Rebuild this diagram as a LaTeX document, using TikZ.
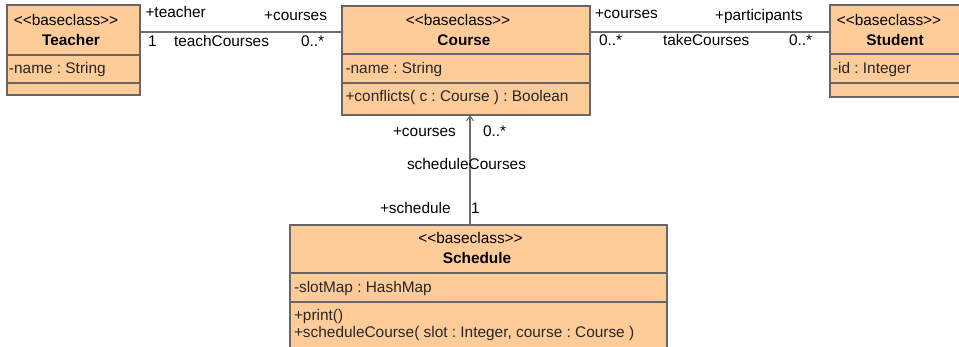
\documentclass[tikz,border=0pt]{standalone}
\usepackage{fontspec}
\setmainfont{Liberation Sans}
\usetikzlibrary{arrows.meta}
\definecolor{peach}{HTML}{FFCC99}
\definecolor{edgegray}{HTML}{666666}
\definecolor{linegray}{HTML}{6E6E6E}
\frenchspacing
\newcommand{\stereotxt}{<{}<baseclass>{}>}
\begin{document}
\begin{tikzpicture}[x=1pt,y=-1pt,
  every node/.style={font=\fontsize{15.4}{17}\selectfont, inner sep=0pt, outer sep=0pt},
  compart/.style={draw=edgegray, fill=peach, line width=1.2pt, anchor=north west, inner sep=0pt},
  stereo/.style={anchor=base},
  cname/.style={anchor=base, font=\fontsize{15.4}{17}\selectfont\bfseries},
  member/.style={anchor=base west, text=black!85},
  lbl/.style={anchor=base west},
  conn/.style={draw=linegray, line width=1.1pt}
]
\useasboundingbox (0,0) rectangle (959,346);
\clip (0,0) rectangle (959,346);
\fill[white] (0,0) rectangle (959,346);

% Teacher
\node[compart, minimum width=133pt, minimum height=50pt] (teacherH) at (7,5) {};
\node[compart, minimum width=133pt, minimum height=28pt] (teacherA) at (7,55) {};
\node[compart, minimum width=133pt, minimum height=12pt] (teacherO) at (7,83) {};
\node[stereo] (teacherS) at (66,25) {\stereotxt};
\node[cname] (teacherN) at (71,45.5) {Teacher};
\node[member] (teacherA1) at (9,73.5) {-name : String};

% Course
\node[compart, minimum width=248pt, minimum height=48pt] (courseH) at (342,6) {};
\node[compart, minimum width=248pt, minimum height=29pt] (courseA) at (342,54) {};
\node[compart, minimum width=248pt, minimum height=32pt] (courseO) at (342,83) {};
\node[stereo] (courseS) at (458,25) {\stereotxt};
\node[cname] (courseN) at (464,45.5) {Course};
\node[member] (courseA1) at (345.5,73.5) {-name : String};
\node[member] (courseO1) at (345.5,101.5) {+conflicts( c : Course ) : Boolean};

% Student
\node[compart, minimum width=133pt, minimum height=49pt] (studentH) at (830,5) {};
\node[compart, minimum width=133pt, minimum height=29pt] (studentA) at (830,54) {};
\node[compart, minimum width=133pt, minimum height=14pt] (studentO) at (830,83) {};
\node[stereo] (studentS) at (889,25) {\stereotxt};
\node[cname] (studentN) at (895,45.5) {Student};
\node[member] (studentA1) at (833,73.5) {-id : Integer};

% Schedule
\node[compart, minimum width=377pt, minimum height=48pt] (scheduleH) at (290,225) {};
\node[compart, minimum width=377pt, minimum height=29pt] (scheduleA) at (290,273) {};
\node[compart, minimum width=377pt, minimum height=60pt] (scheduleO) at (290,302) {};
\node[stereo] (scheduleS) at (470.5,243) {\stereotxt};
\node[cname] (scheduleN) at (477,263) {Schedule};
\node[member] (scheduleA1) at (294,292.5) {-slotMap : HashMap};
\node[member] (scheduleO1) at (294,320) {+print()};
\node[member] (scheduleO2) at (294,337) {+scheduleCourse( slot : Integer, course : Course )};

% connectors
\coordinate (yline) at (0,32);
\coordinate (vx) at (470,0);
\draw[conn] (teacherH.east |- yline) -- (courseH.west |- yline);
\draw[conn] (courseH.east |- yline) -- (studentH.west |- yline);
\draw[conn, -{Straight Barb[length=5pt,width=7pt,line width=1pt]}] (vx |- scheduleH.north) -- (vx |- courseO.south);

% Teacher-Course labels
\node[lbl] (l1) at (145.5,17) {+teacher};
\node[anchor=base east] (l2) at (327,20.5) {+courses};
\node[lbl] (l3) at (148,46.5) {1};
\node[lbl] (l4) at (174,46.5) {teachCourses};
\node[lbl] (l5) at (301,46.5) {0..*};

% Course-Student labels
\node[lbl] (l6) at (595,18) {+courses};
\node[lbl] (l7) at (715,20.5) {+participants};
\node[lbl] (l8) at (599,45.5) {0..*};
\node[lbl] (l9) at (663,45.5) {takeCourses};
\node[lbl] (l10) at (789,45.5) {0..*};

% Schedule-Course labels
\node[lbl] (l11) at (393,136.5) {+courses};
\node[lbl] (l12) at (483,136.5) {0..*};
\node[lbl] (l13) at (407,169) {scheduleCourses};
\node[lbl] (l14) at (380,213) {+schedule};
\node[lbl] (l15) at (471,213) {1};
\end{tikzpicture}
\end{document}
